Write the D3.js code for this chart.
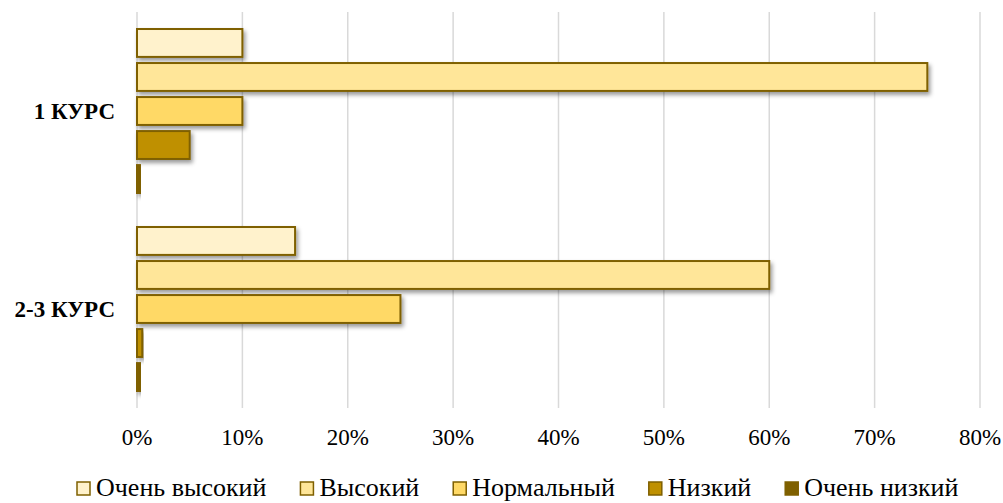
<!DOCTYPE html>
<html>
<head>
<script src="https://d3js.org/d3.v7.min.js"></script>
<style>
  body { margin: 0; background: #fff; }
</style>
</head>
<body>
<svg id="chart" width="1003" height="503" font-family="Liberation Serif, Times New Roman, serif"></svg>
<script>
// data
var categories = ["1 КУРС", "2-3 КУРС"];
var seriesNames = ["Очень высокий", "Высокий", "Нормальный", "Низкий", "Очень низкий"];
var course1 = [10, 75, 10, 5, 0.3];
var course23 = [15, 60, 25, 0.5, 0.3];
var seriesColors = ["#FFF2CC", "#FFE699", "#FFD966", "#BF9000", "#7F6000"];
var tickValues = [0, 10, 20, 30, 40, 50, 60, 70, 80];

var values = [course1, course23];

var svg = d3.select("#chart");
var margin = {left: 137, right: 23, top: 12, bottom: 95};
var width = 1003, height = 503;

var x = d3.scaleLinear().domain([0, 80]).range([margin.left, width - margin.right]);
var y = d3.scaleBand().domain(categories).range([margin.top, height - margin.bottom]);
var yInner = d3.scaleBand().domain(seriesNames).range([0, y.bandwidth()])
    .paddingInner(0.18).paddingOuter(0.5);

// shadow filter
var defs = svg.append("defs");
var f = defs.append("filter").attr("id", "shadow")
    .attr("x", "-10%").attr("y", "-30%").attr("width", "130%").attr("height", "180%");
f.append("feDropShadow").attr("dx", 2).attr("dy", 3).attr("stdDeviation", 2)
    .attr("flood-color", "#000").attr("flood-opacity", 0.4);

// gridlines
svg.append("g").selectAll("line")
    .data(tickValues)
    .enter().append("line")
    .attr("x1", d => x(d)).attr("x2", d => x(d))
    .attr("y1", margin.top).attr("y2", height - margin.bottom)
    .attr("stroke", "#d9d9d9").attr("stroke-width", 1.5);

// x tick labels
svg.append("g").selectAll("text")
    .data(tickValues)
    .enter().append("text")
    .attr("x", d => x(d)).attr("y", 445)
    .attr("text-anchor", "middle")
    .style("font-size", "23px")
    .text(d => d + "%");

// bars
categories.forEach(function(cat, ci) {
    var g = svg.append("g").attr("transform", "translate(0," + y(cat) + ")");
    g.selectAll("rect")
        .data(values[ci])
        .enter().append("rect")
        .attr("x", x(0))
        .attr("y", (d, i) => yInner(seriesNames[i]))
        .attr("width", d => x(d) - x(0))
        .attr("height", yInner.bandwidth())
        .attr("fill", (d, i) => seriesColors[i])
        .attr("stroke", "#7F6000")
        .attr("stroke-width", 2)
        .attr("filter", "url(#shadow)");

    svg.append("text")
        .attr("x", 115)
        .attr("y", y(cat) + y.bandwidth() / 2 + 8)
        .attr("text-anchor", "end")
        .style("font-size", "23px")
        .style("font-weight", "bold")
        .text(cat);
});

// legend
var legend = svg.append("g").attr("transform", "translate(77,496)");
var lx = 0;
seriesNames.forEach(function(name, i) {
    var item = legend.append("g").attr("transform", "translate(" + lx + ",0)");
    item.append("rect")
        .attr("x", 0).attr("y", -14)
        .attr("width", 13).attr("height", 13)
        .attr("fill", seriesColors[i])
        .attr("stroke", "#7F6000").attr("stroke-width", 1.5);
    var t = item.append("text")
        .attr("x", 19).attr("y", 0)
        .style("font-size", "26px")
        .text(name);
    lx += 19 + t.node().getComputedTextLength() + 34;
});
</script>
</body>
</html>
